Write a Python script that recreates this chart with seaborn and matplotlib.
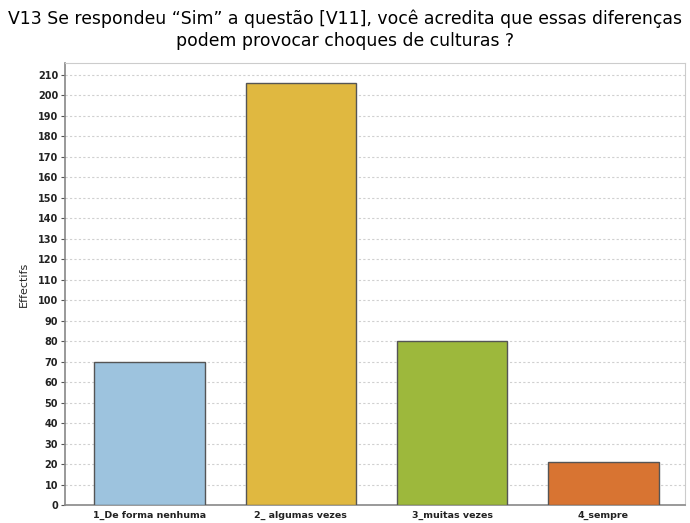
import numpy as np
import pandas as pd
import matplotlib as mpl
import matplotlib.pyplot as plt
import matplotlib.ticker as ticker
import seaborn as sns

# data
categories = ['1_De forma nenhuma', '2_ algumas vezes', '3_muitas vezes', '4_sempre']
counts = [70, 206, 80, 21]
bar_colors = ['#9DC3DE', '#E0B840', '#9DB83C', '#D87432']
title = 'V13 Se respondeu “Sim” a questão [V11], você acredita que essas diferenças\npodem provocar choques de culturas ?'
ylabel = 'Effectifs'

df = pd.DataFrame({'cat': categories, 'n': counts})

sns.set_style('white')
plt.rcParams['font.family'] = ['DejaVu Sans']

fig = plt.figure(figsize=(6.9, 5.23), dpi=100)
ax = fig.add_axes([65 / 690, 18 / 523, 620 / 690, 442 / 523])

sns.barplot(data=df, x='cat', y='n', hue='cat', palette=bar_colors, legend=False,
            width=0.73, edgecolor='#555555', linewidth=1.0, saturation=1, ax=ax, zorder=3)

ax.set_xlim(-0.56, 3.54)
ax.set_ylim(0, 215.8)
ax.yaxis.set_major_locator(ticker.MultipleLocator(10))
ax.grid(axis='y', linestyle=(0, (2, 2)), color='#D0D0D0', linewidth=0.8, zorder=0)
ax.set_axisbelow(True)

for side in ['top', 'right']:
    ax.spines[side].set_color('#CCCCCC')
for side in ['left', 'bottom']:
    ax.spines[side].set_color('#888888')
    ax.spines[side].set_linewidth(1.2)

ax.tick_params(axis='y', left=True, length=3, width=0.8, color='#555555', labelsize=7, pad=2)
ax.tick_params(axis='x', bottom=False, labelsize=6.8, pad=1)
for lab in ax.get_xticklabels() + ax.get_yticklabels():
    lab.set_fontweight('bold')
    lab.set_color('#222222')

ax.set_xlabel('')
ax.set_ylabel(ylabel, fontsize=8, labelpad=6)

fig.suptitle(title, fontsize=12.4, y=0.982, linespacing=1.3, color='black')

plt.savefig('out.png', dpi=100)
